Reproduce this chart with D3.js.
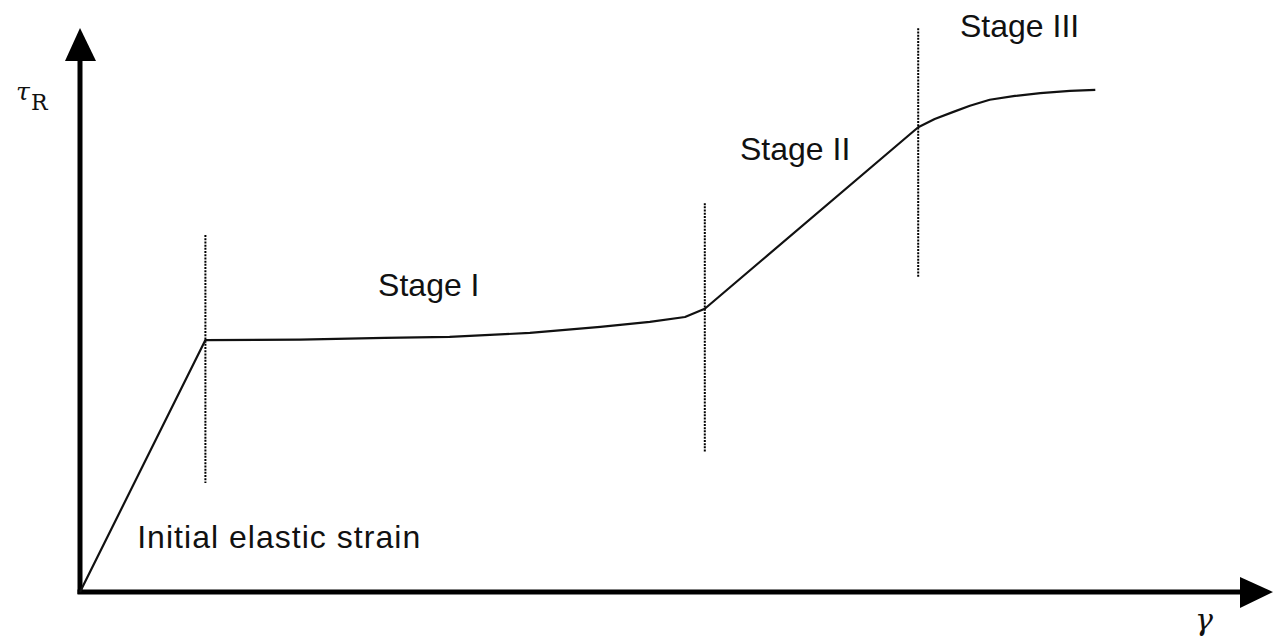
<!DOCTYPE html>
<html>
<head>
<meta charset="utf-8">
<script src="https://cdn.jsdelivr.net/npm/d3@7/dist/d3.min.js"></script>
<style>
  html, body { margin: 0; padding: 0; background: #fff; }
  svg { display: block; }
  .lbl { font-family: "Liberation Sans", Arial, sans-serif; font-size: 32px; fill: #111; }
</style>
</head>
<body>
<svg id="chart" width="1277" height="638"></svg>
<script>
// ---- data (strain gamma, resolved shear stress tau_R, arbitrary units) ----
const curveStrain = [0, 11.4, 20.0, 27.7, 33.6, 40.9, 47.3, 51.8, 55.0, 56.8, 76.2, 77.7, 79.4, 80.9, 82.7, 85.0, 87.3, 90.0, 92.3];
const curveStress = [0, 45.8, 45.9, 46.2, 46.4, 47.1, 48.2, 49.1, 50.0, 51.5, 84.5, 86.0, 87.3, 88.4, 89.5, 90.2, 90.7, 91.1, 91.3];

const boundaryStrain = [11.4, 56.8, 76.2];
const boundaryLow = [19.8, 25.5, 57.3];
const boundaryHigh = [64.9, 70.7, 102.5];

const stageLabels = ["Initial elastic strain", "Stage I", "Stage II", "Stage III"];
const stageLabelStrain = [5.2, 27.1, 60.0, 80.0];
const stageLabelStress = [8.0, 53.8, 78.5, 100.9];

const xMax = 100, yMax = 100;

// ---- drawing ----
const svg = d3.select("#chart");
const x = d3.scaleLinear().domain([0, xMax]).range([80, 1180]);
const y = d3.scaleLinear().domain([0, yMax]).range([592, 42]);

// axes
const ax = x(0), ay = y(0);
svg.append("line").attr("x1", ax).attr("y1", ay + 2).attr("x2", ax).attr("y2", 58)
  .attr("stroke", "#000").attr("stroke-width", 5);
svg.append("path").attr("d", `M${ax},28 L${ax - 15},61 L${ax + 16},61 Z`).attr("fill", "#000");
svg.append("line").attr("x1", ax - 2.5).attr("y1", ay).attr("x2", 1242).attr("y2", ay)
  .attr("stroke", "#000").attr("stroke-width", 5);
svg.append("path").attr("d", `M1273,${ay} L1240,${ay - 15} L1240,${ay + 16} Z`).attr("fill", "#000");

// stage boundaries
svg.selectAll("line.bound").data(boundaryStrain).enter().append("line")
  .attr("class", "bound")
  .attr("x1", d => x(d)).attr("x2", d => x(d))
  .attr("y1", (d, i) => y(boundaryHigh[i])).attr("y2", (d, i) => y(boundaryLow[i]))
  .attr("stroke", "#000").attr("stroke-width", 2).attr("stroke-dasharray", "2,1.2");

// work-hardening curve
const pts = curveStrain.map((s, i) => [s, curveStress[i]]);
svg.append("path").datum(pts)
  .attr("d", d3.line().x(d => x(d[0])).y(d => y(d[1])).curve(d3.curveLinear))
  .attr("fill", "none").attr("stroke", "#111").attr("stroke-width", 2.2)
  .attr("stroke-linejoin", "round");

// stage labels
svg.selectAll("text.lbl").data(stageLabels).enter().append("text")
  .attr("class", "lbl")
  .attr("x", (d, i) => x(stageLabelStrain[i]))
  .attr("y", (d, i) => y(stageLabelStress[i]))
  .attr("textLength", (d, i) => i === 0 ? 283 : null)
  .text(d => d);

// axis titles
svg.append("text").attr("x", 16).attr("y", 100)
  .style("font-family", "'DejaVu Serif', 'Liberation Serif', serif").style("font-size", "25px")
  .style("font-style", "italic").attr("fill", "#111").text("τ");
svg.append("text").attr("x", 31).attr("y", 110)
  .style("font-family", "'DejaVu Serif', 'Liberation Serif', serif")
  .style("font-size", "22px").attr("fill", "#111").text("R");

svg.append("text").attr("x", 1195).attr("y", 630)
  .style("font-family", "'DejaVu Serif', 'Liberation Serif', serif").style("font-size", "30px")
  .style("font-style", "italic").attr("fill", "#111").text("γ");
</script>
</body>
</html>
